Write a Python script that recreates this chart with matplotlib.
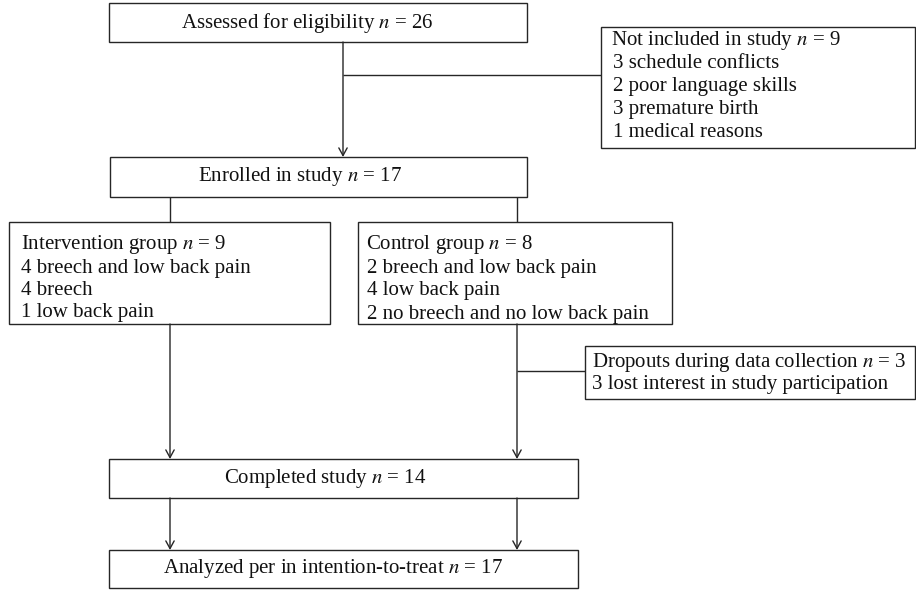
import matplotlib
matplotlib.use("Agg")
from matplotlib import pyplot as plt
from matplotlib.patches import Rectangle

plt.rcParams['font.family'] = ['Liberation Serif', 'DejaVu Serif']
plt.rcParams['mathtext.fontset'] = 'stix'

# box texts (counts from the flow diagram)
assessed_n = 26
excluded_n = 9
excluded_reasons = ["3 schedule conflicts", "2 poor language skills",
                    "3 premature birth", "1 medical reasons"]
enrolled_n = 17
intervention_n = 9
intervention_lines = ["4 breech and low back pain", "4 breech", "1 low back pain"]
control_n = 8
control_lines = ["2 breech and low back pain", "4 low back pain",
                 "2 no breech and no low back pain"]
dropout_n = 3
dropout_lines = ["3 lost interest in study participation"]
completed_n = 14
analyzed_n = 17

LC = '#262626'
FS = 15

fig = plt.figure(figsize=(9.16, 5.90), dpi=100)
ax = fig.add_axes([0, 0, 1, 1])
ax.set_xlim(0, 916)
ax.set_ylim(590, 0)
ax.axis('off')


def box(x0, y0, x1, y1):
    ax.add_patch(Rectangle((x0, y0), x1 - x0, y1 - y0, fill=False, ec=LC, lw=1.0))


def line(xs, ys):
    ax.plot(xs, ys, color=LC, lw=1.0, solid_capstyle='butt')


def arrow(x, y0, y1):
    ax.annotate('', xy=(x, y1), xytext=(x, y0),
                arrowprops=dict(arrowstyle='->,head_length=0.55,head_width=0.3',
                                color=LC, lw=1.0, shrinkA=0, shrinkB=0))


def label(x, y, s, ha='left'):
    ax.text(x, y, s, fontsize=FS, ha=ha, va='center', color='#111111')


nt = lambda txt, n: txt + r" $n$ = " + str(n)

# assessed
box(109, 3, 527, 42)
label(307, 23, nt("Assessed for eligibility", assessed_n), ha='center')
arrow(343, 42, 157)
line([343, 601], [75, 75])

# not included
box(601, 27, 915, 148)
label(611, 40, nt("Not included in study", excluded_n))
for i, s in enumerate(excluded_reasons):
    label(613, 63 + i * 23.3, s)

# enrolled
box(110, 157, 527, 197)
label(300, 177, nt("Enrolled in study", enrolled_n), ha='center')
line([170, 170], [197, 222])
line([517, 517], [197, 222])

# intervention
box(9, 222, 330, 324)
label(21, 245, nt("Intervention group", intervention_n))
for i, s in enumerate(intervention_lines):
    label(21, 268 + i * 22.5, s)

# control
box(358, 222, 672, 324)
label(366, 245, nt("Control group", control_n))
for i, s in enumerate(control_lines):
    label(367, 268 + i * 23, s)

arrow(170, 324, 459)
arrow(517, 324, 459)
line([517, 585], [371, 371])

# dropouts
box(585, 346, 915, 399)
label(592, 362, nt("Dropouts during data collection", dropout_n))
for i, s in enumerate(dropout_lines):
    label(592, 384 + i * 21, s)

# completed
box(109, 459, 578, 498)
label(325, 478, nt("Completed study", completed_n), ha='center')
arrow(170, 498, 550)
arrow(517, 498, 550)

# analyzed
box(109, 550, 578, 588)
label(333, 569, nt("Analyzed per in intention-to-treat", analyzed_n), ha='center')

fig.savefig('out.png', dpi=100)
